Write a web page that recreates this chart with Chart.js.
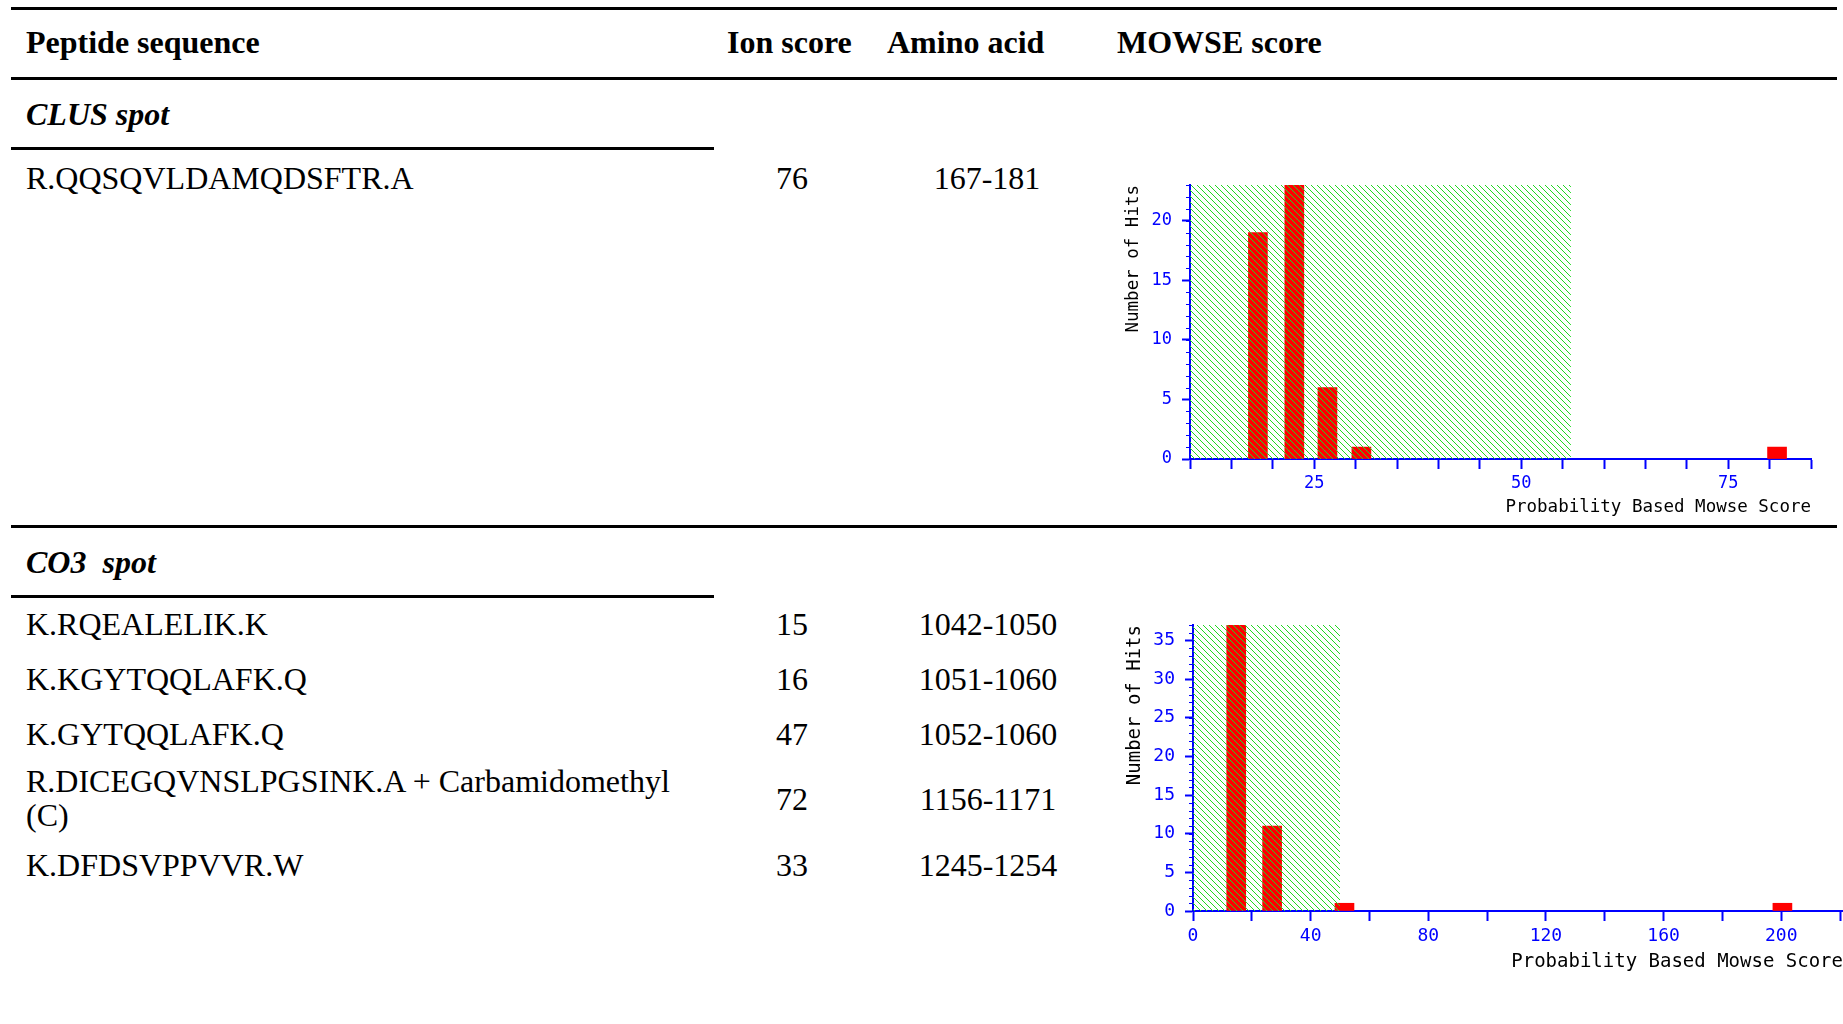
<!DOCTYPE html>
<html>
<head>
<meta charset="utf-8">
<script src="https://cdn.jsdelivr.net/npm/chart.js@4.4.1/dist/chart.umd.min.js"></script>
<style>
  html, body { margin: 0; padding: 0; background: #fff; }
  #page { position: relative; width: 1843px; height: 1024px; overflow: hidden;
          font-family: "Liberation Serif", "Times New Roman", serif; font-size: 32px; color: #000; }
  .t { position: absolute; white-space: pre; line-height: 32px; }
  .b { font-weight: bold; }
  .bi { font-weight: bold; font-style: italic; }
  .c { width: 200px; text-align: center; }
  .rule { position: absolute; background: #000; }
  canvas { position: absolute; }
</style>
</head>
<body>
<div id="page">
  <div class="rule" style="left:11px;top:7px;width:1826px;height:3px"></div>
  <div class="t b" style="left:26px;top:26px">Peptide sequence</div>
  <div class="t b" style="left:727px;top:26px">Ion score</div>
  <div class="t b" style="left:887px;top:26px">Amino acid</div>
  <div class="t b" style="left:1117px;top:26px">MOWSE score</div>
  <div class="rule" style="left:11px;top:77px;width:1826px;height:3px"></div>

  <div class="t bi" style="left:26px;top:98px">CLUS spot</div>
  <div class="rule" style="left:11px;top:147px;width:703px;height:3px"></div>
  <div class="t" style="left:26px;top:162px">R.QQSQVLDAMQDSFTR.A</div>
  <div class="t c" style="left:692px;top:162px">76</div>
  <div class="t c" style="left:887px;top:162px">167-181</div>
  <canvas id="clus" width="733" height="350" style="left:1110px;top:170px"></canvas>

  <div class="rule" style="left:11px;top:525px;width:1826px;height:3px"></div>
  <div class="t bi" style="left:26px;top:546px">CO3  spot</div>
  <div class="rule" style="left:11px;top:595px;width:703px;height:3px"></div>
  <div class="t" style="left:26px;top:608px">K.RQEALELIK.K</div>
  <div class="t c" style="left:692px;top:608px">15</div>
  <div class="t c" style="left:888px;top:608px">1042-1050</div>
  <div class="t" style="left:26px;top:663px">K.KGYTQQLAFK.Q</div>
  <div class="t c" style="left:692px;top:663px">16</div>
  <div class="t c" style="left:888px;top:663px">1051-1060</div>
  <div class="t" style="left:26px;top:718px">K.GYTQQLAFK.Q</div>
  <div class="t c" style="left:692px;top:718px">47</div>
  <div class="t c" style="left:888px;top:718px">1052-1060</div>
  <div class="t" style="left:26px;top:764px;line-height:34px">R.DICEGQVNSLPGSINK.A + Carbamidomethyl<br>(C)</div>
  <div class="t c" style="left:692px;top:783px">72</div>
  <div class="t c" style="left:888px;top:783px">1156-1171</div>
  <div class="t" style="left:26px;top:849px">K.DFDSVPPVVR.W</div>
  <div class="t c" style="left:692px;top:849px">33</div>
  <div class="t c" style="left:888px;top:849px">1245-1254</div>
  <canvas id="co3" width="733" height="370" style="left:1110px;top:610px"></canvas>
</div>
<script>
// CLUS spot histogram
const clusScores = [18.2, 22.6, 26.6, 30.7, 80.9];
const clusHits = [19, 23, 6, 1, 1];
const clusThreshold = 56;
const clusXMin = 10, clusXMax = 85, clusYMax = 23;
const clusXTicks = [10, 15, 20, 25, 30, 35, 40, 45, 50, 55, 60, 65, 70, 75, 80, 85];
const clusXLabels = [25, 50, 75];
const clusYTicks = [0, 5, 10, 15, 20];

// CO3 spot histogram
const co3Scores = [14.7, 26.9, 51.5, 200.4];
const co3Hits = [37, 11, 1, 1];
const co3Threshold = 50;
const co3XMin = 0, co3XMax = 221, co3YMax = 37;
const co3XTicks = [0, 20, 40, 60, 80, 100, 120, 140, 160, 180, 200, 220];
const co3XLabels = [0, 40, 80, 120, 160, 200];
const co3YTicks = [0, 5, 10, 15, 20, 25, 30, 35];

const blue = '#0000ff';
const mono = '"DejaVu Sans Mono", "Liberation Mono", monospace';

// crisp one-pixel "\" hatching for the random-match region
function hatch(canvas, color, step) {
    const c = document.createElement('canvas');
    c.width = c.height = step;
    const g = c.getContext('2d');
    g.fillStyle = color;
    for (let i = 0; i < step; i++) g.fillRect(i, i, 1, 1);
    return canvas.getContext('2d').createPattern(c, 'repeat');
}

// short unlabelled ticks at every hit count
const minorTicks = {
    id: 'minorTicks',
    afterDraw(chart) {
        const y = chart.scales.y, ctx = chart.ctx;
        ctx.save();
        ctx.strokeStyle = blue;
        ctx.lineWidth = 1;
        ctx.beginPath();
        for (let v = 0; v <= y.max; v++) {
            const py = Math.round(y.getPixelForValue(v)) + 0.5;
            ctx.moveTo(y.right - 4, py);
            ctx.lineTo(y.right, py);
        }
        ctx.stroke();
        ctx.restore();
    }
};

function histogram(id, d, s) {
    const canvas = document.getElementById(id);
    return new Chart(canvas, {
        type: 'bar',
        data: {
            datasets: [
                { type: 'line', data: [{x: d.xMin, y: d.yMax}, {x: d.threshold, y: d.yMax}],
                  fill: 'origin', backgroundColor: hatch(canvas, '#22d822', 6),
                  borderWidth: 0, pointRadius: 0, order: 0 },
                { data: d.scores.map((x, i) => ({x: x, y: d.hits[i]})),
                  backgroundColor: '#ff0000', barThickness: 19, order: 1 }
            ]
        },
        options: {
            responsive: false, animation: false, events: [],
            layout: { padding: s.pad },
            plugins: { legend: { display: false }, tooltip: { enabled: false } },
            scales: {
                x: {
                    type: 'linear', min: d.xMin, max: d.xMax, offset: false, z: 1,
                    afterBuildTicks: sc => { sc.ticks = d.xTicks.map(v => ({value: v})); },
                    afterFit: sc => { sc.height = s.xh; sc.paddingLeft = 0; sc.paddingRight = 0; },
                    grid: { offset: false, drawOnChartArea: false, tickLength: 10, tickWidth: 2, tickColor: blue },
                    border: { color: blue, width: 2 },
                    ticks: { color: blue, font: { family: mono, size: s.tick }, padding: s.xtp,
                             maxRotation: 0, autoSkip: false,
                             callback: v => d.xLabels.includes(v) ? String(v) : '' },
                    title: { display: true, text: 'Probability Based Mowse Score', align: 'end', color: '#000',
                             font: { family: mono, size: s.title }, padding: { top: 0, bottom: s.xtb } }
                },
                y: {
                    min: 0, max: d.yMax, z: 1,
                    afterBuildTicks: sc => { sc.ticks = d.yTicks.map(v => ({value: v})); },
                    afterFit: sc => { sc.width = s.yw; sc.paddingTop = 0; sc.paddingBottom = 0; },
                    grid: { drawOnChartArea: false, tickLength: 8, tickWidth: 2, tickColor: blue },
                    border: { color: blue, width: 2 },
                    ticks: { color: blue, font: { family: mono, size: s.tick }, padding: 10 },
                    title: { display: true, text: 'Number of Hits', align: 'end', color: '#000',
                             font: { family: mono, size: s.title }, padding: { top: s.ytp, bottom: 0 } }
                }
            }
        },
        plugins: [minorTicks]
    });
}

histogram('clus',
    { scores: clusScores, hits: clusHits, threshold: clusThreshold, xMin: clusXMin, xMax: clusXMax,
      yMax: clusYMax, xTicks: clusXTicks, xLabels: clusXLabels, yTicks: clusYTicks },
    { pad: { left: 0, top: 15, right: 32, bottom: 0 }, xh: 61, yw: 80, tick: 17, title: 17.5, xtp: 4, xtb: 2.5, ytp: 13 });

histogram('co3',
    { scores: co3Scores, hits: co3Hits, threshold: co3Threshold, xMin: co3XMin, xMax: co3XMax,
      yMax: co3YMax, xTicks: co3XTicks, xLabels: co3XLabels, yTicks: co3YTicks },
    { pad: { left: 0, top: 15, right: 0, bottom: 0 }, xh: 69, yw: 83, tick: 18, title: 19, xtp: 5, xtb: 7, ytp: 14 });
</script>
</body>
</html>
